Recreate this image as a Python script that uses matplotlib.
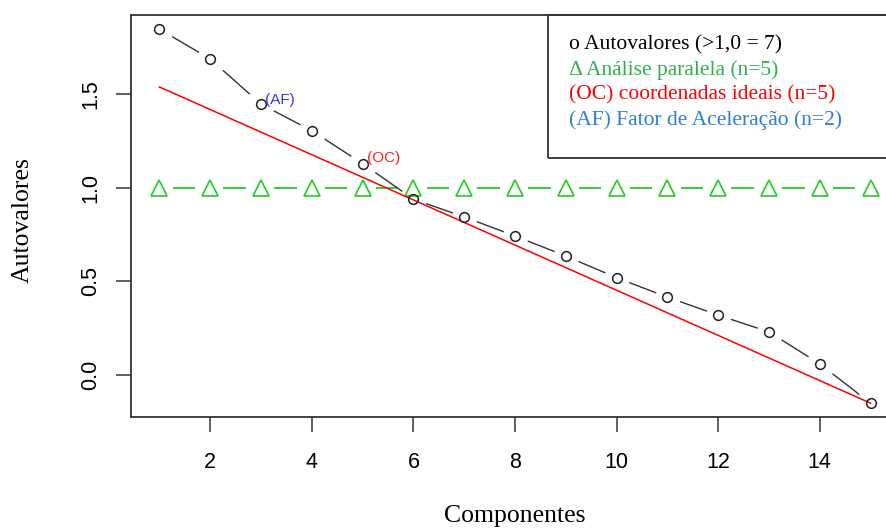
import numpy as np
import matplotlib.pyplot as plt
from matplotlib.patches import Rectangle

# scree plot: eigenvalues, parallel analysis and optimal coordinates
componentes = [1, 2, 3, 4, 5, 6, 7, 8, 9, 10, 11, 12, 13, 14, 15]
autovalores = [1.849, 1.69, 1.448, 1.306, 1.13, 0.94, 0.845, 0.743, 0.636,
               0.52, 0.416, 0.32, 0.23, 0.059, -0.151]
paralela = [1.0, 1.0, 1.0, 1.0, 1.0, 1.0, 1.0, 1.0, 1.0, 1.0, 1.0, 1.0, 1.0, 1.0, 1.0]
oc_x = [1, 15]
oc_y = [1.54, -0.151]
x_ticks = [2, 4, 6, 8, 10, 12, 14]
y_ticks = [0.0, 0.5, 1.0, 1.5]
legenda = ["o Autovalores (>1,0 = 7)",
           "\u0394 Análise paralela (n=5)",
           "(OC) coordenadas ideais (n=5)",
           "(AF) Fator de Aceleração (n=2)"]
cores_legenda = ["black", "#2fb04c", "#ff0000", "#2a7fd2"]

SANS = ["Liberation Sans", "DejaVu Sans"]
SERIF = ["Liberation Serif", "DejaVu Serif"]

fig = plt.figure(figsize=(8.87, 5.28), dpi=100)
# plot region runs a bit past the right edge of the figure
ax = fig.add_axes([131 / 887, 1 - 417 / 528, 768 / 887, 402 / 528])


def linhas_b(ax, x, y, color, lw, g0=0.25, g1=0.22):
    # R-style type="b": segments with gaps around each point
    x = np.asarray(x, float)
    y = np.asarray(y, float)
    for i in range(len(x) - 1):
        dx, dy = x[i + 1] - x[i], y[i + 1] - y[i]
        ax.plot([x[i] + g0 * dx, x[i + 1] - g1 * dx],
                [y[i] + g0 * dy, y[i + 1] - g1 * dy],
                color=color, lw=lw, solid_capstyle="butt")


# parallel analysis
linhas_b(ax, componentes, paralela, "#22cc22", 1.3, 0.26, 0.30)
ax.plot(componentes, paralela, ls="none", marker="^", ms=12, mfc="none",
        mec="#22cc22", mew=1.2)

# optimal coordinates line
ax.plot(oc_x, oc_y, color="#ff0000", lw=1.1)

# eigenvalues
linhas_b(ax, componentes, autovalores, "#333333", 1.0)
ax.plot(componentes, autovalores, ls="none", marker="o", ms=7, mfc="none",
        mec="#222222", mew=1.1)

ax.annotate("(AF)", (componentes[2], autovalores[2]), xytext=(3, 3),
            textcoords="offset points", ha="left", va="center",
            color="#3333ff", fontsize=11, family=SANS)
ax.annotate("(OC)", (componentes[4], autovalores[4]), xytext=(3, 4),
            textcoords="offset points", ha="left", va="center",
            color="#ff2020", fontsize=11, family=SANS)

ax.set_xlim(0.44, 15.56)
ax.set_ylim(-0.225, 1.925)
ax.set_xticks(x_ticks)
ax.set_xticklabels([str(v) for v in x_ticks], family=SANS, fontsize=15.5)
ax.set_yticks(y_ticks)
ax.set_yticklabels([f"{v:.1f}" for v in y_ticks], family=SANS, fontsize=15.5,
                   rotation=90, va="center")
ax.tick_params(length=10.5, width=1.2, color="#444444")
ax.tick_params(axis="x", pad=15)
ax.tick_params(axis="y", pad=11)

for s in ax.spines.values():
    s.set_linewidth(1.3)
    s.set_color("#333333")

ax.set_xlabel("Componentes", family=SERIF, fontsize=18.5, va="center")
ax.xaxis.set_label_coords(0.5, -0.246)
ax.set_ylabel("Autovalores", family=SERIF, fontsize=18.5, va="center")
ax.yaxis.set_label_coords(-0.1406, 0.49)

# legend box in the top right corner
ax.add_patch(Rectangle((0.543, 0.644), 0.457, 0.356, transform=ax.transAxes,
                       fill=False, ec="#333333", lw=1.3, clip_on=False))
ys = [0.925, 0.862, 0.801, 0.739]
for txt, c, yy in zip(legenda, cores_legenda, ys):
    ax.text(0.570, yy, txt, transform=ax.transAxes, color=c, family=SERIF,
            fontsize=15.5, ha="left", va="center")

fig.savefig("out.png", dpi=100)
